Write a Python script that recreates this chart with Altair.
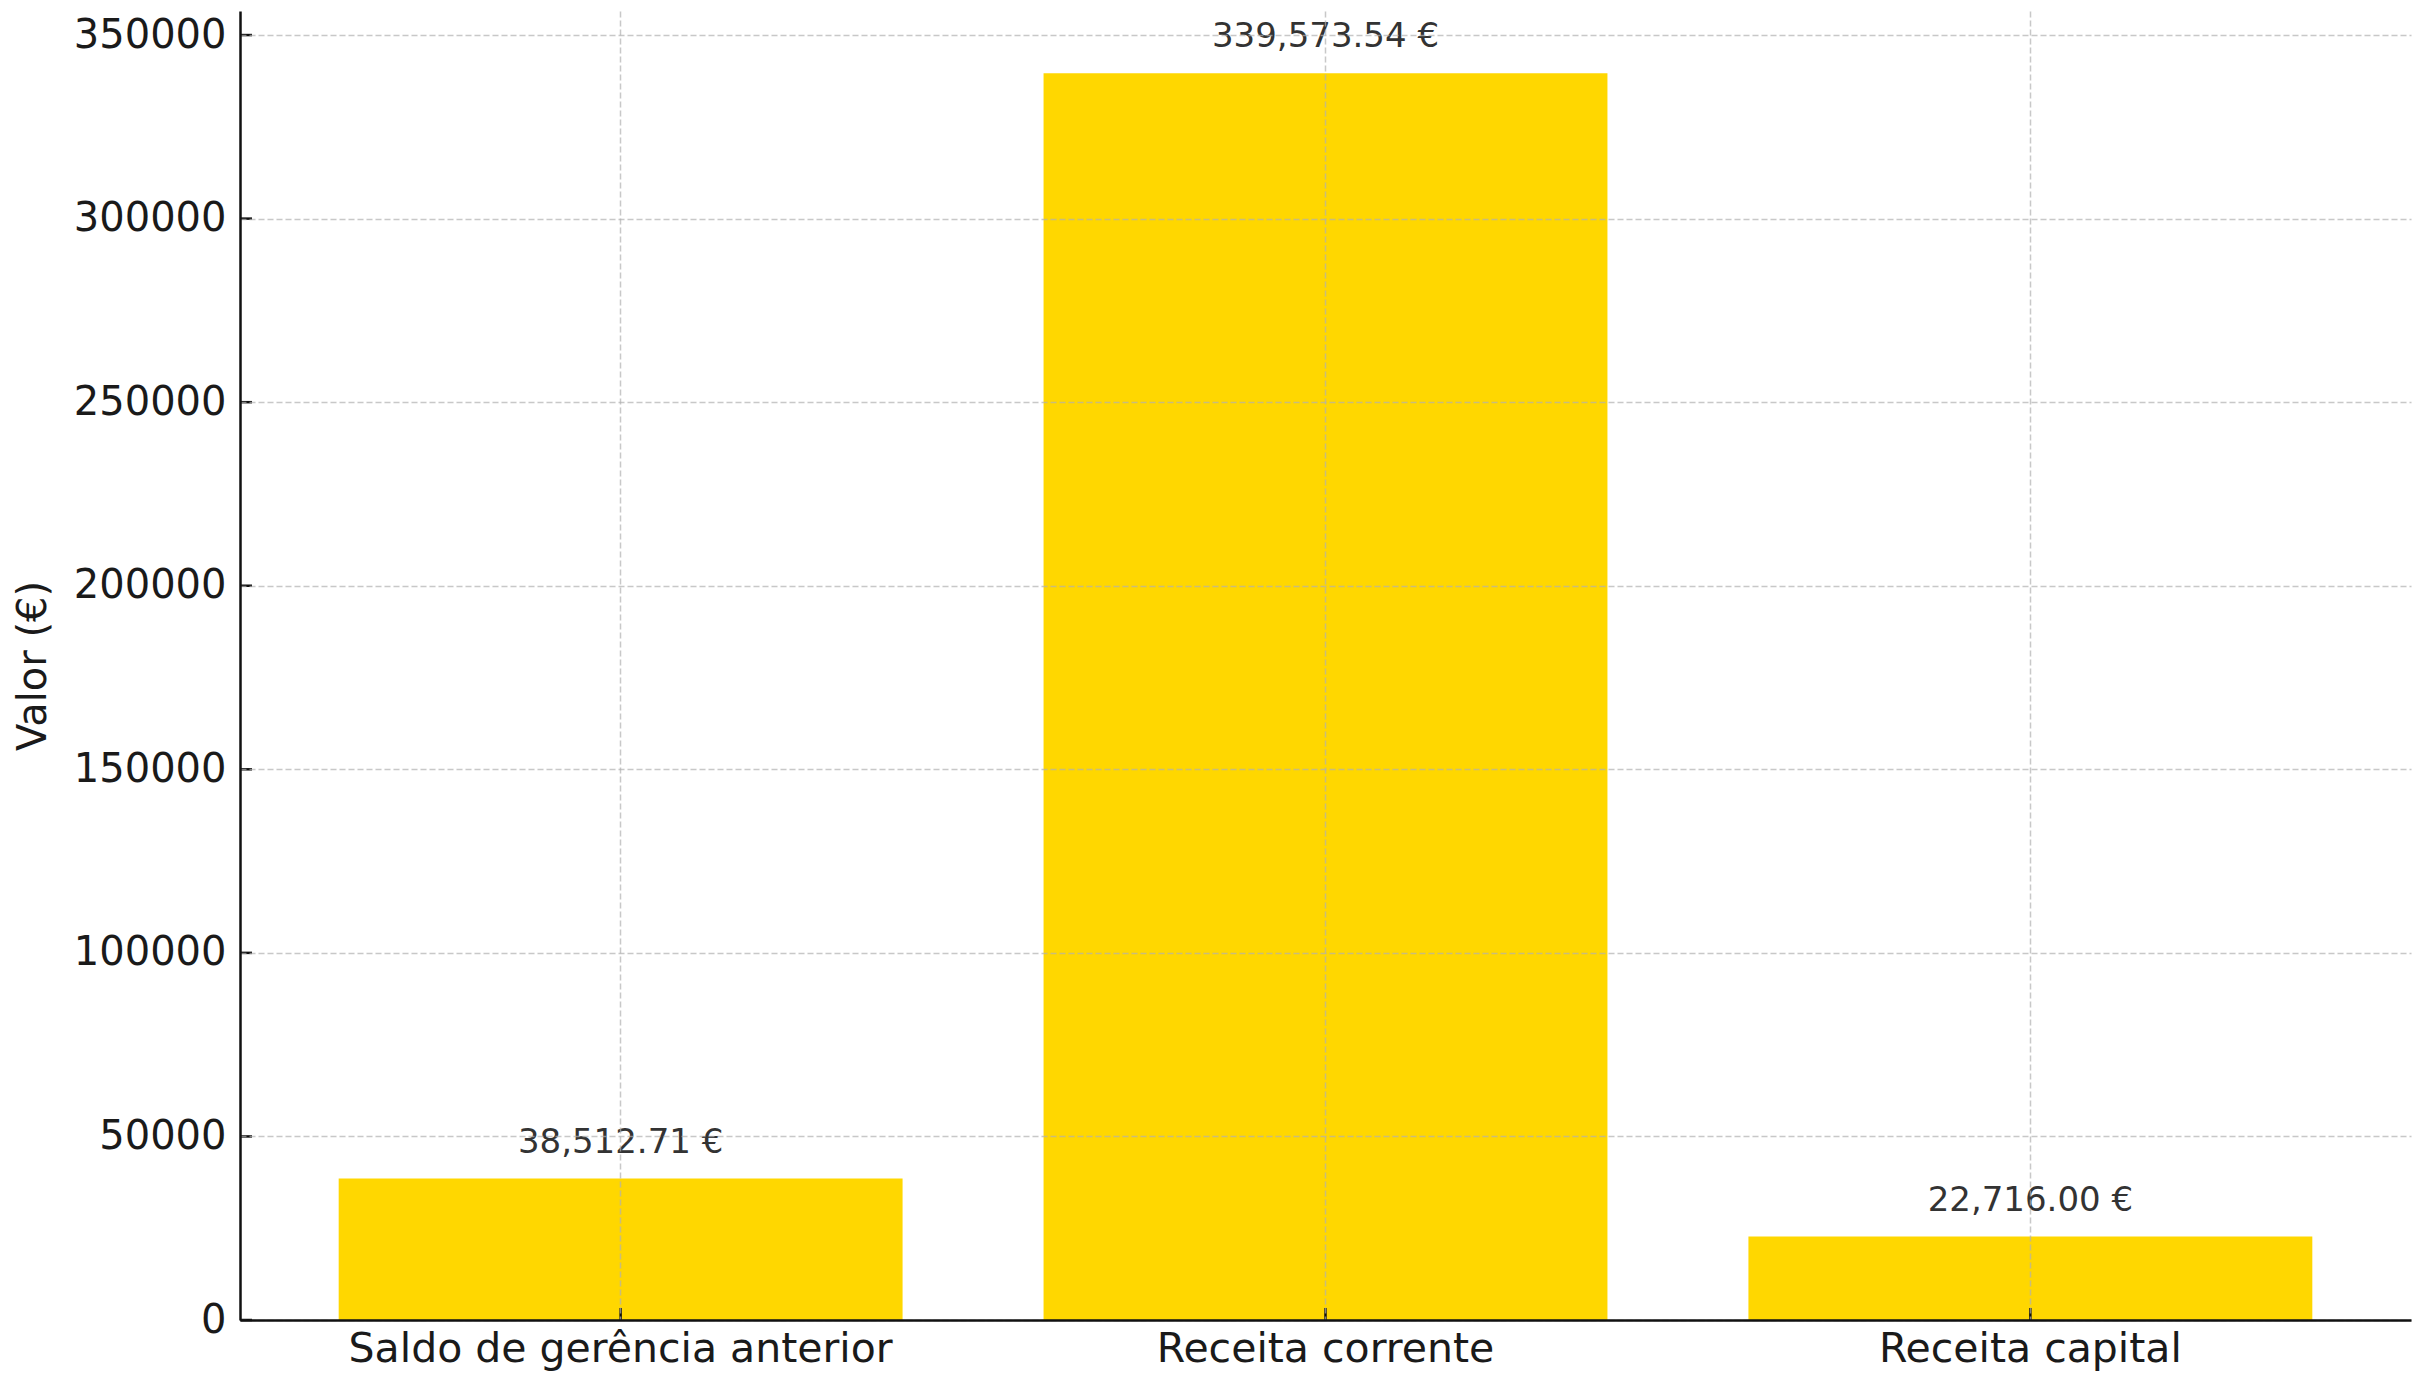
import altair as alt
import pandas as pd

# Receitas por origem
categorias = ["Saldo de gerência anterior", "Receita corrente", "Receita capital"]
valores = [38512.71, 339573.54, 22716.00]
marcas_y = [0, 50000, 100000, 150000, 200000, 250000, 300000, 350000]

W, H = 2171, 1309
FONT = "DejaVu Sans"
COR_BARRA = "#FFD700"
COR_GRELHA = "#b0b0b0"

df = pd.DataFrame({"categoria": categorias, "valor": valores})
df_ticks_y = pd.DataFrame({"v": marcas_y})

y_max = max(valores) * 1.05

x_scale = alt.Scale(domain=categorias, paddingInner=0.2, paddingOuter=0.14)
y_scale = alt.Scale(domain=[0, y_max], nice=False, zero=True)

x_enc = alt.X(
    "categoria:N",
    sort=categorias,
    scale=x_scale,
    axis=alt.Axis(
        title=None,
        labelAngle=0,
        labelFontSize=41,
        labelFont=FONT,
        labelColor="#1a1a1a",
        labelPadding=9,
        labelLimit=0,
        ticks=False,
        domainColor="#111111",
        domainWidth=2.5,
        grid=True,
        gridColor=COR_GRELHA,
        gridOpacity=0.7,
        gridDash=[6, 3],
        gridWidth=1.5,
        bandPosition=0.5,
        zindex=1,
    ),
)

y_enc = alt.Y(
    "valor:Q",
    scale=y_scale,
    axis=alt.Axis(
        title="Valor (€)",
        titleFontSize=40,
        titleFont=FONT,
        titleFontWeight="normal",
        titleColor="#1a1a1a",
        titlePadding=20,
        values=marcas_y,
        format="d",
        labelFontSize=40,
        labelFont=FONT,
        labelColor="#1a1a1a",
        labelPadding=14,
        labelLimit=0,
        ticks=False,
        domainColor="#111111",
        domainWidth=2.5,
        grid=True,
        gridColor=COR_GRELHA,
        gridOpacity=0.7,
        gridDash=[6, 3],
        gridWidth=1.5,
        zindex=1,
    ),
)

barras = alt.Chart(df).mark_bar(color=COR_BARRA).encode(x=x_enc, y=y_enc)

rotulos = (
    alt.Chart(df)
    .transform_calculate(rotulo="format(datum.valor, ',.2f') + ' €'")
    .mark_text(
        font=FONT,
        fontSize=34,
        color="#333333",
        baseline="middle",
        align="center",
        dy=-36,
    )
    .encode(
        x=alt.X("categoria:N", sort=categorias, scale=x_scale),
        y=alt.Y("valor:Q", scale=y_scale),
        text="rotulo:N",
    )
)

# marcas de escala viradas para dentro
ticks_y = (
    alt.Chart(df_ticks_y)
    .mark_rule(color="#111111", strokeWidth=2.5)
    .encode(
        y=alt.Y("v:Q", scale=y_scale),
        x=alt.value(0),
        x2=alt.value(12),
    )
)

ticks_x = (
    alt.Chart(df)
    .mark_rule(color="#111111", strokeWidth=2.5)
    .encode(
        x=alt.X("categoria:N", sort=categorias, scale=x_scale),
        y=alt.value(H - 12),
        y2=alt.value(H),
    )
)

chart = (
    alt.layer(barras, ticks_y, ticks_x, rotulos)
    .properties(
        width=W,
        height=H,
        autosize=alt.AutoSizeParams(type="none"),
        padding={"left": 240, "top": 11, "right": 4, "bottom": 62},
        background="white",
    )
    .configure_view(stroke=None)
)

chart.save("out.html", embed_options={"renderer": "svg", "actions": False})
